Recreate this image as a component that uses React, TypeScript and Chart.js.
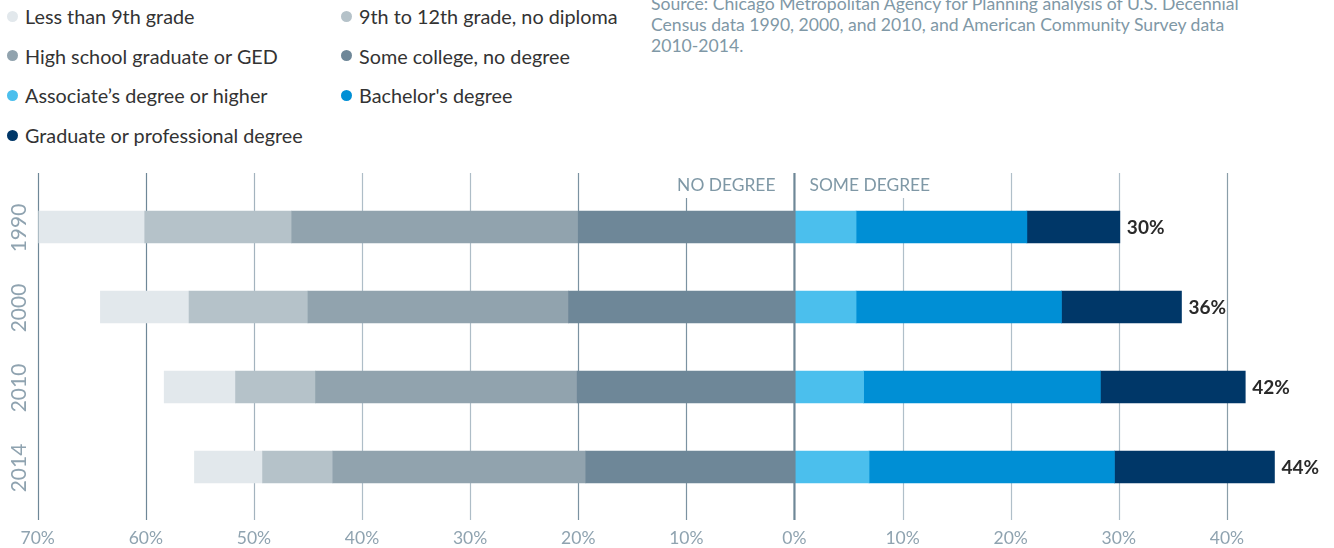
import React, { useEffect, useRef } from "react";
import { Chart, registerables } from "chart.js";

Chart.register(...registerables);

// ---- data ----
const years = ["1990", "2000", "2010", "2014"];
const lessThan9th = [9.8, 8.2, 6.6, 6.3];
const grade9to12 = [13.6, 11.0, 7.4, 6.5];
const highSchool = [26.5, 24.1, 24.2, 23.4];
const someCollege = [20.0, 20.9, 20.1, 19.3];
const associate = [5.7, 5.7, 6.4, 6.9];
const bachelor = [15.8, 19.0, 21.9, 22.7];
const graduate = [8.6, 11.1, 13.4, 14.8];
const xTickValues = [-70, -60, -50, -40, -30, -20, -10, 0, 10, 20, 30, 40];

const legendItems = [
  { label: "Less than 9th grade", color: "#e2e8ec", col: 0, row: 0 },
  { label: "9th to 12th grade, no diploma", color: "#b5c2c9", col: 1, row: 0 },
  { label: "High school graduate or GED", color: "#91a3ae", col: 0, row: 1 },
  { label: "Some college, no degree", color: "#6e8798", col: 1, row: 1 },
  { label: "Associate\u2019s degree or higher", color: "#4bbfed", col: 0, row: 2 },
  { label: "Bachelor's degree", color: "#008fd5", col: 1, row: 2 },
  { label: "Graduate or professional degree", color: "#003768", col: 0, row: 3 },
];

const gridColors: Record<number, string> = {
  [-70]: "#6e8797",
  [-60]: "#6e8797",
  [-50]: "#a3b3be",
  [-40]: "#aebdc7",
  [-30]: "#aebdc7",
  [-20]: "#7b92a1",
  [-10]: "#7b92a1",
  0: "#6e8797",
  10: "#b0bfc9",
  20: "#b0bfc9",
  30: "#b0bfc9",
  40: "#8a9ea9",
};

const FONT = "Lato, 'Open Sans', sans-serif";
const MUTED = "#7f98a6";

const customPlugin = {
  id: "customDecor",
  beforeDatasetsDraw(chart: any) {
    const { ctx, chartArea, scales } = chart;
    const x = scales.x;
    ctx.save();
    xTickValues.forEach((v) => {
      if (v === 0) return;
      const px = Math.round(x.getPixelForValue(v)) + 0.5;
      // lines next to the header labels start below the labels
      const top = Math.abs(v) === 10 ? chartArea.top + 11 : chartArea.top - 14;
      ctx.strokeStyle = gridColors[v];
      ctx.lineWidth = 1.2;
      ctx.beginPath();
      ctx.moveTo(px, top);
      ctx.lineTo(px, chartArea.bottom + 13);
      ctx.stroke();
    });
    ctx.restore();
  },
  afterDatasetsDraw(chart: any) {
    const { ctx, chartArea, scales } = chart;
    const x = scales.x;
    const y = scales.y;
    ctx.save();
    // zero line
    const x0 = x.getPixelForValue(0);
    ctx.strokeStyle = gridColors[0];
    ctx.lineWidth = 2.2;
    ctx.beginPath();
    ctx.moveTo(x0, chartArea.top - 14);
    ctx.lineTo(x0, chartArea.bottom + 13);
    ctx.stroke();

    // header labels
    ctx.fillStyle = MUTED;
    ctx.font = `17.4px ${FONT}`;
    ctx.textBaseline = "middle";
    ctx.textAlign = "right";
    ctx.fillText("NO DEGREE", x0 - 19, chartArea.top - 2);
    ctx.textAlign = "left";
    ctx.fillText("SOME DEGREE", x0 + 15, chartArea.top - 2);

    // year labels (rotated)
    ctx.font = `21px ${FONT}`;
    ctx.fillStyle = "#8fa3b0";
    years.forEach((yr, i) => {
      const py = y.getPixelForValue(i);
      ctx.save();
      ctx.translate(19, py + 1);
      ctx.rotate(-Math.PI / 2);
      ctx.textAlign = "center";
      ctx.textBaseline = "middle";
      ctx.fillText(yr, 0, 0);
      ctx.restore();
    });

    // totals
    ctx.font = `bold 19px ${FONT}`;
    ctx.fillStyle = "#2a2a2a";
    ctx.textAlign = "left";
    ctx.textBaseline = "middle";
    years.forEach((_, i) => {
      const total = associate[i] + bachelor[i] + graduate[i];
      const px = x.getPixelForValue(total);
      const py = y.getPixelForValue(i);
      ctx.fillText(`${Math.round(total)}%`, px + 7, py + 1);
    });
    ctx.restore();
  },
};

export default function App() {
  const ref = useRef<HTMLCanvasElement | null>(null);

  useEffect(() => {
    if (!ref.current) return;
    const neg = (arr: number[]) => arr.map((v) => -v);
    const chart = new Chart(ref.current, {
      type: "bar",
      data: {
        labels: years,
        datasets: [
          { label: "Some college, no degree", data: neg(someCollege), backgroundColor: "#6e8798" },
          { label: "High school graduate or GED", data: neg(highSchool), backgroundColor: "#91a3ae" },
          { label: "9th to 12th grade, no diploma", data: neg(grade9to12), backgroundColor: "#b5c2c9" },
          { label: "Less than 9th grade", data: neg(lessThan9th), backgroundColor: "#e2e8ec" },
          { label: "Associate\u2019s degree or higher", data: associate, backgroundColor: "#4bbfed" },
          { label: "Bachelor's degree", data: bachelor, backgroundColor: "#008fd5" },
          { label: "Graduate or professional degree", data: graduate, backgroundColor: "#003768" },
        ],
      },
      options: {
        indexAxis: "y",
        animation: false,
        responsive: false,
        devicePixelRatio: 1,
        events: [],
        layout: { padding: { left: 37.7, right: 0, top: 27, bottom: 0 } },
        datasets: { bar: { barThickness: 32, borderWidth: 0 } },
        plugins: {
          legend: { display: false },
          tooltip: { enabled: false },
          title: { display: false },
        },
        scales: {
          x: {
            type: "linear",
            stacked: true,
            min: -70,
            max: 50,
            border: { display: false },
            grid: { display: false, drawTicks: false },
            afterFit: (scale: any) => {
              scale.height = 41;
              scale.paddingLeft = 0;
              scale.paddingRight = 0;
            },
            ticks: {
              stepSize: 10,
              padding: 21,
              color: "#8fa3b0",
              font: { family: FONT, size: 17.5 },
              callback: (v: any) => {
                const n = Number(v);
                if (n > 40 || n % 10 !== 0) return "";
                return `${Math.abs(n)}%`;
              },
            },
          },
          y: {
            type: "category",
            stacked: true,
            display: false,
          },
        },
      },
      plugins: [customPlugin],
    } as any);
    return () => chart.destroy();
  }, []);

  return (
    <div
      style={{
        position: "absolute",
        left: 0,
        top: 0,
        width: 1334,
        height: 548,
        overflow: "hidden",
        background: "#ffffff",
        fontFamily: FONT,
      }}
    >
      {legendItems.map((it) => (
        <div
          key={it.label}
          style={{
            position: "absolute",
            left: 7 + it.col * 334,
            top: 16 + it.row * 39.7 - 12,
            height: 24,
            display: "flex",
            alignItems: "center",
            whiteSpace: "nowrap",
            fontSize: 19.8,
            color: "#333333",
          }}
        >
          <span
            style={{
              display: "inline-block",
              width: 11,
              height: 11,
              borderRadius: "50%",
              background: it.color,
              marginRight: 7,
            }}
          />
          <span>{it.label}</span>
        </div>
      ))}
      <div
        style={{
          position: "absolute",
          left: 651,
          top: -7,
          fontSize: 17.6,
          lineHeight: "21px",
          color: MUTED,
          whiteSpace: "nowrap",
        }}
      >
        Source: Chicago Metropolitan Agency for Planning analysis of U.S. Decennial
        <br />
        Census data 1990, 2000, and 2010, and American Community Survey data
        <br />
        2010-2014.
      </div>
      <canvas
        ref={ref}
        width={1335}
        height={388}
        style={{ position: "absolute", left: 0, top: 160, width: 1335, height: 388, display: "block" }}
      />
    </div>
  );
}
